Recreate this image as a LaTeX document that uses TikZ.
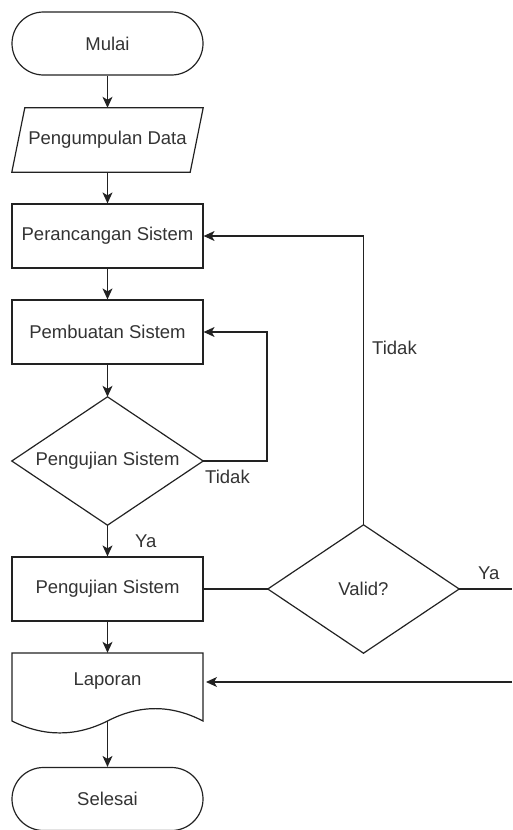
\documentclass[tikz,border=0pt]{standalone}
\usepackage{fontspec}
\setmainfont{Liberation Sans}
\usetikzlibrary{arrows.meta}
\definecolor{txt}{HTML}{333333}
\definecolor{ln}{HTML}{222222}
\begin{document}
\begin{tikzpicture}[x=1pt,y=-1pt,
  every node/.style={font=\fontsize{18.5}{22}\selectfont, text=txt},
  box/.style={draw=ln, line width=1.2pt, minimum width=191pt, minimum height=64pt, inner sep=0pt},
  term/.style={box, rounded corners=31.5pt, minimum height=63pt},
  ghost/.style={draw=none, minimum width=191pt, minimum height=64pt, inner sep=0pt},
  shp/.style={draw=ln, line width=1.2pt, line join=miter},
  conn/.style={draw=ln, line width=1.2pt, -{Stealth[length=11pt,width=10pt,inset=3pt]}},
  plain/.style={draw=ln, line width=1.2pt},
  lbl/.style={anchor=west, inner sep=0pt}]
\useasboundingbox (0,0) rectangle (512,830);

% nodes
\node[term] (mulai) at (107.5,43.5) {Mulai};
\node[ghost] (data) at (107.5,140) {Pengumpulan Data};
\node[box] (rancang) at (107.5,236) {Perancangan Sistem};
\node[box] (buat) at (107.5,332) {Pembuatan Sistem};
\node[ghost, minimum height=128pt] (uji1) at (107.5,461) {Pengujian Sistem};
\node[box] (uji2) at (107.5,589) {Pengujian Sistem};
\node[ghost, minimum width=191pt, minimum height=128pt] (valid) at (363.5,589) {Valid?};
\node[ghost, minimum height=81pt] (lap) at (107.5,693.5) {};
\node at (107.5,681) {Laporan};
\node[term] (selesai) at (107.5,799) {Selesai};

% shapes drawn by hand
\draw[shp] ([xshift=13pt]data.north west) -- (data.north east) -- ([xshift=-13pt]data.south east) -- (data.south west) -- cycle;
\draw[shp] (uji1.north) -- (uji1.east) -- (uji1.south) -- (uji1.west) -- cycle;
\draw[shp] (valid.north) -- (valid.east) -- (valid.south) -- (valid.west) -- cycle;
\draw[shp] (12,721) -- (12,653) -- (203,653) -- (203,721)
  .. controls (171.2,704.5) and (139.3,704.5) .. (107.5,721)
  .. controls (75.7,736.9) and (43.8,736.9) .. (12,721) -- cycle;

% helper coordinates
\coordinate (lapb) at (107.5,721);
\coordinate (loop1) at (267,461);
\coordinate (loop2) at (267,332);
\coordinate (vtop) at (363.5,236);
\coordinate (yaend) at (512,589);
\coordinate (retstart) at (512,682);
\coordinate (lapin) at (203,682);

% connectors
\draw[conn] (mulai) -- (data);
\draw[conn] (data) -- (rancang);
\draw[conn] (rancang) -- (buat);
\draw[conn] (buat) -- (uji1.north);
\draw[conn] (uji1.south) -- (uji2);
\draw[conn] (uji1.east) -- (loop1) -- (loop2) -- (buat.east);
\draw[plain] (uji2.east) -- (valid.west);
\draw[conn] (valid.north) -- (vtop) -- (rancang.east);
\draw[plain] (valid.east) -- (yaend);
\draw[conn] (uji2) -- (lap.north);
\draw[conn] (retstart) -- ([xshift=3pt]lapin);
\draw[conn] (lapb) -- (selesai);

% labels
\node[lbl] at (205,477) {Tidak};
\node[lbl] at (135,541) {Ya};
\node[lbl] at (372,348) {Tidak};
\node[lbl] at (478,573) {Ya};
\end{tikzpicture}
\end{document}
